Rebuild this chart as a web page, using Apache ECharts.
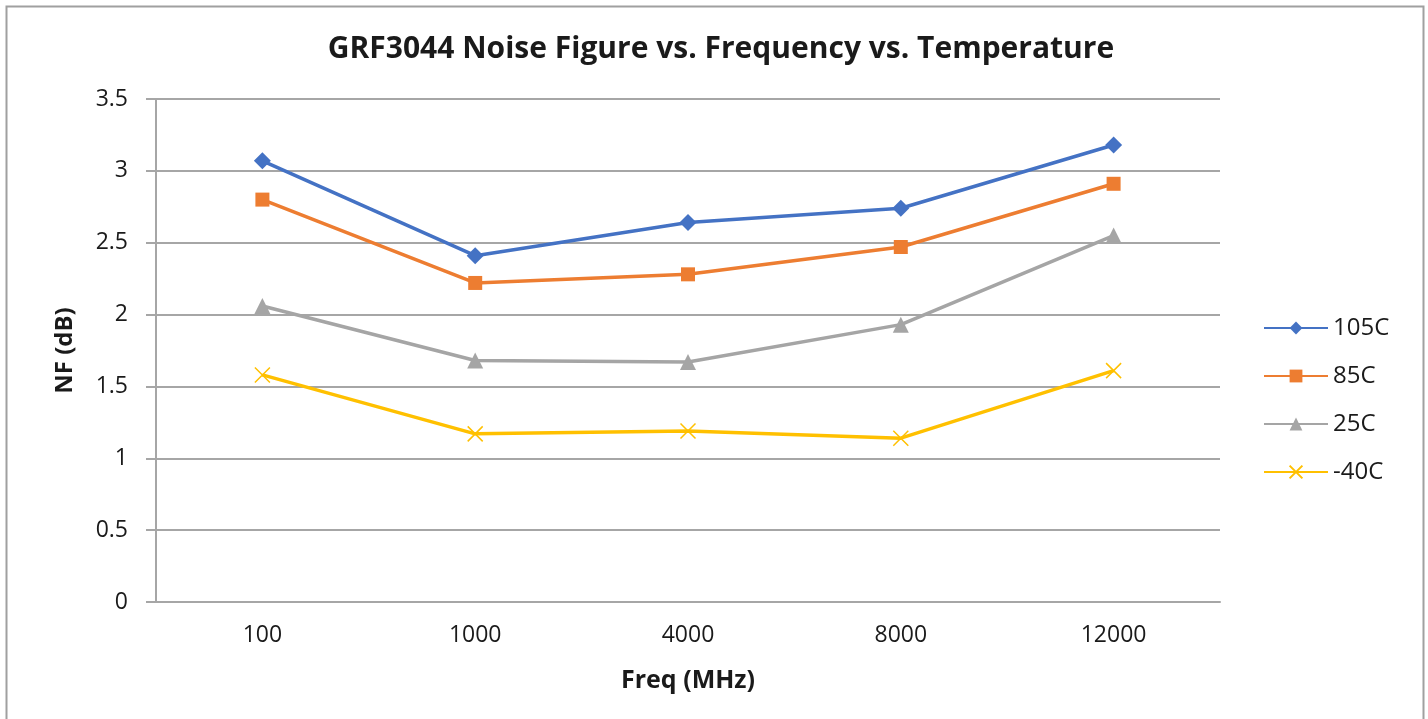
<!DOCTYPE html>
<html>
<head>
<meta charset="utf-8">
<script src="https://cdn.jsdelivr.net/npm/echarts@6/dist/echarts.min.js"></script>
<style>
html,body{margin:0;padding:0;background:#fff;}
#chart{width:1428px;height:719px;}
</style>
</head>
<body>
<div id="chart"></div>
<script>
const categories = ['100', '1000', '4000', '8000', '12000'];
const seriesNames = ['105C', '85C', '25C', '-40C'];
const nf105 = [3.07, 2.41, 2.64, 2.74, 3.18];
const nf85 = [2.80, 2.22, 2.28, 2.47, 2.91];
const nf25 = [2.06, 1.68, 1.67, 1.93, 2.55];
const nfM40 = [1.58, 1.17, 1.19, 1.14, 1.61];

const colors = ['#4472C4', '#ED7D31', '#A5A5A5', '#FFC000'];
const FONT = '"Open Sans", "Liberation Sans", sans-serif';
const xPath = 'path://M0,0 L10,10 M10,0 L0,10';

function mkSeries(name, data, color, symbol, size, extra) {
  return Object.assign({
    name: name,
    type: 'line',
    data: data,
    symbol: symbol,
    symbolSize: size,
    lineStyle: { color: color, width: 3.5 },
    itemStyle: { color: color },
    emphasis: { disabled: true },
    animation: false
  }, extra || {});
}

const chart = echarts.init(document.getElementById('chart'));
chart.setOption({
  backgroundColor: '#fff',
  animation: false,
  textStyle: { fontFamily: FONT },
  graphic: [{
    type: 'rect',
    shape: { x: 6.5, y: 6.5, width: 1417, height: 740 },
    style: { fill: 'none', stroke: '#A0A0A0', lineWidth: 2 },
    silent: true, z: -1
  }],
  title: {
    text: 'GRF3044 Noise Figure vs. Frequency vs. Temperature',
    left: 716, textAlign: 'center', top: 29,
    textStyle: { fontFamily: FONT, fontSize: 30, fontWeight: 'bold', color: '#1a1a1a' }
  },
  legend: {
    orient: 'vertical',
    left: 1258, top: 311,
    itemWidth: 64, itemHeight: 16, itemGap: 24,
    textStyle: { fontFamily: FONT, fontSize: 24, color: '#1a1a1a', lineHeight: 24, padding: [0, 0, 0, 0] },
    data: seriesNames
  },
  grid: { left: 156, right: 208, top: 99, bottom: 117, containLabel: false },
  xAxis: {
    type: 'category',
    data: categories,
    boundaryGap: true,
    name: 'Freq (MHz)',
    nameLocation: 'middle',
    nameGap: 66,
    nameTextStyle: { fontFamily: FONT, fontSize: 25, fontWeight: 'bold', color: '#1a1a1a' },
    axisLine: { show: true, lineStyle: { color: '#A6A6A6', width: 2 } },
    axisTick: { show: false },
    axisLabel: { fontFamily: FONT, fontSize: 23, color: '#1a1a1a', margin: 22 }
  },
  yAxis: {
    type: 'value',
    min: 0, max: 3.5, interval: 0.5,
    name: 'NF (dB)',
    nameLocation: 'middle',
    nameGap: 79,
    nameRotate: 90,
    nameTextStyle: { fontFamily: FONT, fontSize: 24, fontWeight: 'bold', color: '#1a1a1a' },
    axisLine: { show: true, lineStyle: { color: '#A6A6A6', width: 2 } },
    axisTick: { show: true, length: 10, lineStyle: { color: '#A6A6A6', width: 2 } },
    axisLabel: { fontFamily: FONT, fontSize: 23, color: '#1a1a1a', margin: 28 },
    splitLine: { show: true, lineStyle: { color: '#A6A6A6', width: 2 } }
  },
  series: [
    mkSeries(seriesNames[0], nf105, colors[0], 'diamond', 17),
    mkSeries(seriesNames[1], nf85, colors[1], 'rect', 14),
    mkSeries(seriesNames[2], nf25, colors[2], 'triangle', 16),
    mkSeries(seriesNames[3], nfM40, colors[3], xPath, 15, {
      itemStyle: { color: 'none', borderColor: colors[3], borderWidth: 1.5 }
    })
  ]
});
</script>
</body>
</html>
